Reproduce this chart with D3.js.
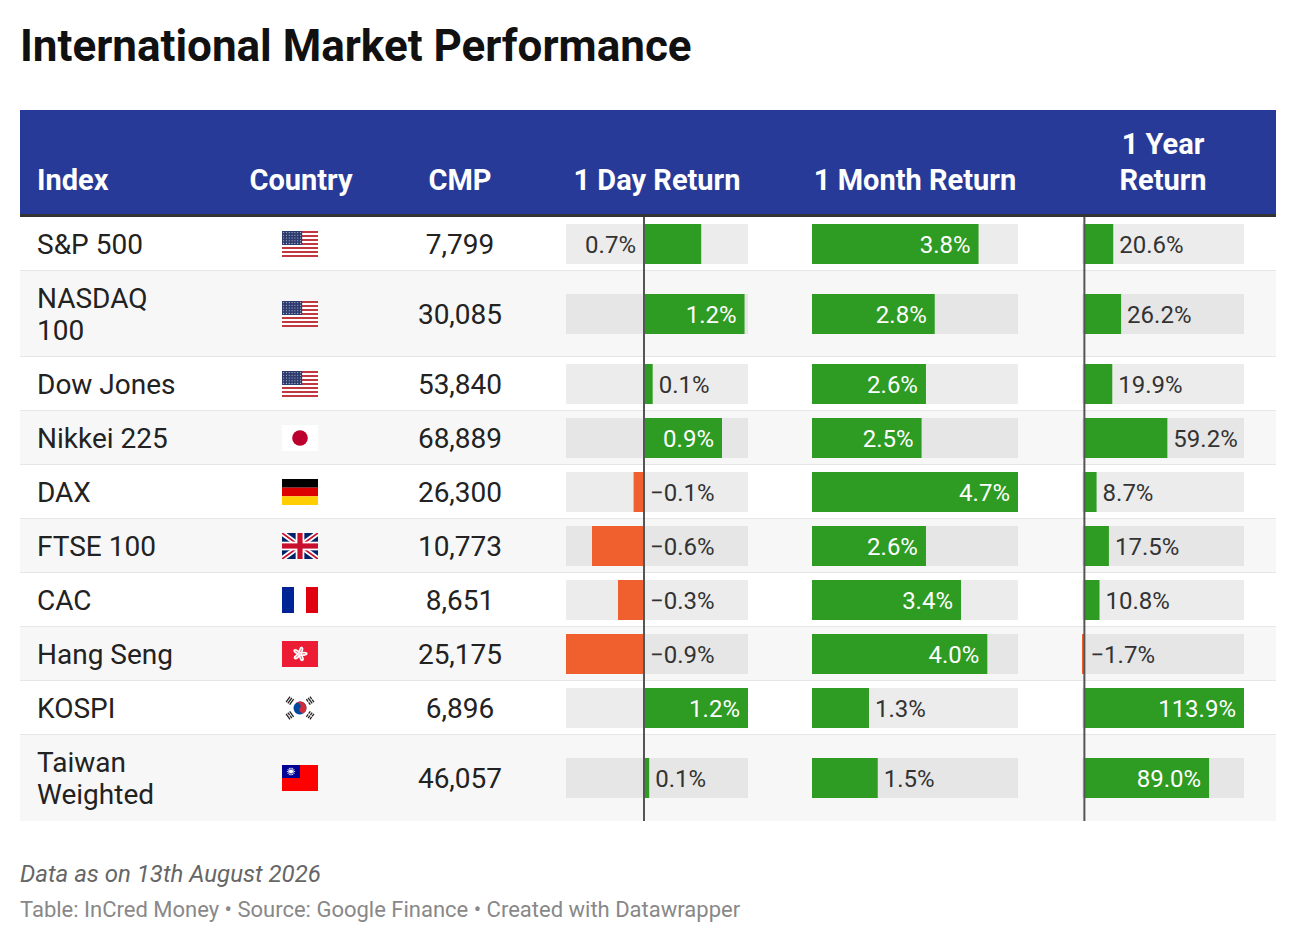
<!DOCTYPE html>
<html>
<head>
<meta charset="utf-8">
<script src="https://cdn.jsdelivr.net/npm/d3@7"></script>
<style>
  body { margin: 0; background: #fff; }
  svg { display: block; font-family: Roboto, "Noto Sans", sans-serif; }
</style>
</head>
<body>
<svg id="chart"></svg>
<script>
// Table data
const indexNames = ["S&P 500", "NASDAQ 100", "Dow Jones", "Nikkei 225", "DAX", "FTSE 100", "CAC", "Hang Seng", "KOSPI", "Taiwan Weighted"];
const countries = ["United States", "United States", "United States", "Japan", "Germany", "United Kingdom", "France", "Hong Kong", "South Korea", "Taiwan"];
const flagCodes = ["us", "us", "us", "jp", "de", "gb", "fr", "hk", "kr", "tw"];
const cmp = [7799, 30085, 53840, 68889, 26300, 10773, 8651, 25175, 6896, 46057];
const dayReturn = [0.66, 1.16, 0.1, 0.9, -0.12, -0.6, -0.3, -0.9, 1.2, 0.06];
const monthReturn = [3.8, 2.8, 2.6, 2.5, 4.7, 2.6, 3.4, 4.0, 1.3, 1.5];
const yearReturn = [20.6, 26.2, 19.9, 59.2, 8.7, 17.5, 10.8, -1.7, 113.9, 89.0];
const headers = ["Index", "Country", "CMP", "1 Day Return", "1 Month Return", "1 Year Return"];

const title = "International Market Performance";
const note = "Data as on 13th August 2026";
const byline = "Table: InCred Money \u2022 Source: Google Finance \u2022 Created with Datawrapper";

// Layout
const width = 1296;
const height = 944;
const tableLeft = 20;
const tableRight = 1276;
const headerTop = 110;
const headerBottom = 214;
const rowsTop = 217;
const lineHeight = 32;
const rowPad = 11;
const bodySize = 28;
const headSize = 29;
const labelSize = 24;
const barHeight = 40;

const green = "#2e9b22";
const red = "#f05f2e";

const svg = d3.select("#chart")
    .attr("width", width)
    .attr("height", height);

svg.append("rect")
    .attr("width", width)
    .attr("height", height)
    .attr("fill", "#fff");

// text measuring helper
const measurer = svg.append("text").attr("visibility", "hidden");
function textWidth(str, size, weight) {
    measurer.attr("font-size", size).attr("font-weight", weight || 400).text(str);
    return measurer.node().getComputedTextLength();
}
function wrap(str, maxW, size, weight) {
    const words = str.split(" ");
    const lines = [];
    let line = words[0];
    for (let i = 1; i < words.length; i++) {
        const test = line + " " + words[i];
        if (textWidth(test, size, weight) > maxW) {
            lines.push(line);
            line = words[i];
        } else {
            line = test;
        }
    }
    lines.push(line);
    return lines;
}

// Columns
const valueCols = [
    { name: headers[3], values: dayReturn, range: [566, 748] },
    { name: headers[4], values: monthReturn, range: [812, 1018] },
    { name: headers[5], values: yearReturn, range: [1082, 1244] }
];
valueCols.forEach(c => {
    c.scale = d3.scaleLinear()
        .domain([Math.min(0, d3.min(c.values)), Math.max(0, d3.max(c.values))])
        .range(c.range);
});

// Title
svg.append("text")
    .attr("x", 20)
    .attr("y", 61)
    .attr("font-size", 44)
    .attr("font-weight", 700)
    .attr("fill", "#111")
    .text(title);

// Header
svg.append("rect")
    .attr("x", tableLeft)
    .attr("y", headerTop)
    .attr("width", tableRight - tableLeft)
    .attr("height", headerBottom - headerTop)
    .attr("fill", "#283a97");
svg.append("rect")
    .attr("x", tableLeft)
    .attr("y", headerBottom)
    .attr("width", tableRight - tableLeft)
    .attr("height", rowsTop - headerBottom)
    .attr("fill", "#333");

const headerCells = [
    { text: headers[0], x: 37, anchor: "start", maxW: 150 },
    { text: headers[1], x: 301, anchor: "middle", maxW: 140 },
    { text: headers[2], x: 460, anchor: "middle", maxW: 140 },
    ...valueCols.map(c => ({
        text: c.name,
        x: (c.range[0] + c.range[1]) / 2,
        anchor: "middle",
        maxW: c.range[1] - c.range[0] + 6
    }))
];
headerCells.forEach(h => {
    const lines = wrap(h.text, h.maxW, headSize, 700);
    const t = svg.append("text")
        .attr("x", h.x)
        .attr("text-anchor", h.anchor)
        .attr("font-size", headSize)
        .attr("font-weight", 700)
        .attr("fill", "#fff");
    lines.forEach((l, i) => {
        t.append("tspan")
            .attr("x", h.x)
            .attr("y", 190 - (lines.length - 1 - i) * 36)
            .text(l);
    });
});

// Rows
const rowLines = indexNames.map(n => wrap(n, 150, bodySize, 400));
const rowHeights = rowLines.map(l => l.length * lineHeight + rowPad * 2);
const rowTops = [rowsTop, ...d3.cumsum(rowHeights).map(v => rowsTop + v)];
const tableBottom = rowTops[rowTops.length - 1];

const fmtPct = v => (v < 0 ? "\u2212" : "") + Math.abs(v).toFixed(1) + "%";
const fmtNum = d3.format(",");

const rows = svg.append("g").selectAll("g")
    .data(indexNames)
    .enter()
    .append("g")
    .attr("transform", (d, i) => `translate(0, ${rowTops[i]})`);

rows.append("rect")
    .attr("x", tableLeft)
    .attr("width", tableRight - tableLeft)
    .attr("height", (d, i) => rowHeights[i])
    .attr("fill", (d, i) => i % 2 ? "#f7f7f7" : "#fff");

rows.filter((d, i) => i < indexNames.length - 1)
    .append("rect")
    .attr("x", tableLeft)
    .attr("y", (d, i) => rowHeights[i] - 1)
    .attr("width", tableRight - tableLeft)
    .attr("height", 2)
    .attr("fill", "#e6e6e6");

// Index names
rows.each(function (d, i) {
    const g = d3.select(this);
    const mid = rowHeights[i] / 2;
    const lines = rowLines[i];
    const t = g.append("text")
        .attr("font-size", bodySize)
        .attr("fill", "#222");
    lines.forEach((l, k) => {
        t.append("tspan")
            .attr("x", 37)
            .attr("y", mid + (k - (lines.length - 1) / 2) * lineHeight + 10)
            .text(l);
    });

    // CMP
    g.append("text")
        .attr("x", 460)
        .attr("y", mid + 10)
        .attr("text-anchor", "middle")
        .attr("font-size", bodySize)
        .attr("fill", "#222")
        .text(fmtNum(cmp[i]));

    // Flag
    const f = g.append("g")
        .attr("transform", `translate(${300 - 18}, ${mid - 13})`);
    f.append("title").text(countries[i]);
    drawFlag(f, flagCodes[i], 36, 26, i);
});

// Bars
valueCols.forEach(col => {
    const x = col.scale;
    const [x0, x1] = col.range;
    rows.each(function (d, i) {
        const g = d3.select(this);
        const v = col.values[i];
        const mid = rowHeights[i] / 2;
        g.append("rect")
            .attr("x", x0)
            .attr("y", mid - barHeight / 2)
            .attr("width", x1 - x0)
            .attr("height", barHeight)
            .attr("fill", i % 2 ? "#e6e6e6" : "#ececec");
        g.append("rect")
            .attr("x", x(Math.min(0, v)))
            .attr("y", mid - barHeight / 2)
            .attr("width", Math.abs(x(v) - x(0)))
            .attr("height", barHeight)
            .attr("fill", v < 0 ? red : green);

        const label = fmtPct(v);
        const w = textWidth(label, labelSize, 400);
        let lx, anchor, color = "#333";
        if (v < 0) {
            lx = x(0) + 6; anchor = "start";
        } else if (x(v) - x(0) >= w + 24) {
            lx = x(v) - 8; anchor = "end"; color = "#fff";
        } else if (x1 - x(v) >= w + 8) {
            lx = x(v) + 6; anchor = "start";
        } else {
            lx = x(0) - 8; anchor = "end";
        }
        g.append("text")
            .attr("x", lx)
            .attr("y", mid + 8.5)
            .attr("text-anchor", anchor)
            .attr("font-size", labelSize)
            .attr("fill", color)
            .text(label);
    });

    if (x.domain()[0] < 0) {
        svg.append("line")
            .attr("x1", x(0))
            .attr("x2", x(0))
            .attr("y1", rowsTop)
            .attr("y2", tableBottom)
            .attr("stroke", "#555")
            .attr("stroke-width", 2);
    }
});

// Footer
svg.append("text")
    .attr("x", 20)
    .attr("y", 882)
    .attr("font-size", 24)
    .attr("font-style", "italic")
    .attr("fill", "#666")
    .text(note);
svg.append("text")
    .attr("x", 20)
    .attr("y", 917)
    .attr("font-size", 22)
    .attr("fill", "#888")
    .text(byline);

// Flags
function drawFlag(g, code, w, h, idx) {
    const clipId = "flagclip" + idx;
    g.append("clipPath").attr("id", clipId)
        .append("rect").attr("width", w).attr("height", h);
    const f = g.append("g").attr("clip-path", `url(#${clipId})`);
    const rect = (x, y, rw, rh, fill) => f.append("rect")
        .attr("x", x).attr("y", y).attr("width", rw).attr("height", rh).attr("fill", fill);

    if (code === "us") {
        const sh = h / 13;
        rect(0, 0, w, h, "#fff");
        for (let k = 0; k < 13; k += 2) rect(0, k * sh, w, sh, "#c0393f");
        const cw = w * 0.56, ch = sh * 7;
        rect(0, 0, cw, ch, "#2d3b6e");
        for (let r = 0; r < 5; r++) {
            for (let c = 0; c < 7; c++) {
                f.append("circle")
                    .attr("cx", 1.6 + c * (cw - 3.2) / 6)
                    .attr("cy", 1.6 + r * (ch - 3.2) / 4)
                    .attr("r", 0.55)
                    .attr("fill", "#c8cde0");
            }
        }
    } else if (code === "jp") {
        rect(0, 0, w, h, "#fff");
        f.append("circle").attr("cx", w / 2).attr("cy", h / 2).attr("r", h * 0.3).attr("fill", "#bc002d");
    } else if (code === "de") {
        rect(0, 0, w, h / 3, "#000");
        rect(0, h / 3, w, h / 3, "#dd0000");
        rect(0, 2 * h / 3, w, h / 3, "#ffce00");
    } else if (code === "fr") {
        rect(0, 0, w / 3, h, "#002395");
        rect(w / 3, 0, w / 3, h, "#fff");
        rect(2 * w / 3, 0, w / 3, h, "#e1000f");
    } else if (code === "gb") {
        rect(0, 0, w, h, "#012169");
        const diag = [[0, 0, w, h], [0, h, w, 0]];
        diag.forEach(dd => f.append("line")
            .attr("x1", dd[0]).attr("y1", dd[1]).attr("x2", dd[2]).attr("y2", dd[3])
            .attr("stroke", "#fff").attr("stroke-width", h * 0.2));
        diag.forEach(dd => f.append("line")
            .attr("x1", dd[0]).attr("y1", dd[1]).attr("x2", dd[2]).attr("y2", dd[3])
            .attr("stroke", "#c8102e").attr("stroke-width", h * 0.07));
        rect(0, h / 2 - h / 6, w, h / 3, "#fff");
        rect(w / 2 - h / 6, 0, h / 3, h, "#fff");
        rect(0, h / 2 - h / 10, w, h / 5, "#c8102e");
        rect(w / 2 - h / 10, 0, h / 5, h, "#c8102e");
    } else if (code === "hk") {
        rect(0, 0, w, h, "#ec1c34");
        const petals = f.append("g").attr("transform", `translate(${w / 2}, ${h / 2})`);
        for (let k = 0; k < 5; k++) {
            petals.append("ellipse")
                .attr("cx", 0).attr("cy", -4)
                .attr("rx", 2.1).attr("ry", 3.6)
                .attr("fill", "#fff")
                .attr("transform", `rotate(${k * 72 + 15})`);
        }
        for (let k = 0; k < 5; k++) {
            petals.append("line")
                .attr("x1", 0).attr("y1", -2).attr("x2", 0).attr("y2", -5.5)
                .attr("stroke", "#ec1c34").attr("stroke-width", 0.6)
                .attr("transform", `rotate(${k * 72 + 15})`);
        }
    } else if (code === "kr") {
        rect(0, 0, w, h, "#fff");
        const r = h / 4;
        const tg = f.append("g").attr("transform", `translate(${w / 2}, ${h / 2}) rotate(33.7)`);
        tg.append("circle").attr("r", r).attr("fill", "#0047a0");
        tg.append("path")
            .attr("d", `M${-r},0 A${r},${r} 0 0 1 ${r},0 A${r / 2},${r / 2} 0 0 1 0,0 A${r / 2},${r / 2} 0 0 0 ${-r},0 Z`)
            .attr("fill", "#cd2e3a");
        // trigrams
        const corners = [[-1, -1, [0, 0, 0]], [1, -1, [1, 0, 1]], [-1, 1, [0, 1, 0]], [1, 1, [1, 1, 1]]];
        corners.forEach(cn => {
            const ang = Math.atan2(cn[1] * h, cn[0] * w) * 180 / Math.PI;
            const tr = f.append("g")
                .attr("transform", `translate(${w / 2}, ${h / 2}) rotate(${ang}) translate(${h * 0.48}, 0)`);
            cn[2].forEach((broken, k) => {
                const bx = (k - 1) * 2.2 - 0.6;
                if (broken) {
                    tr.append("rect").attr("x", bx).attr("y", -3.4).attr("width", 1.3).attr("height", 3).attr("fill", "#222");
                    tr.append("rect").attr("x", bx).attr("y", 0.4).attr("width", 1.3).attr("height", 3).attr("fill", "#222");
                } else {
                    tr.append("rect").attr("x", bx).attr("y", -3.4).attr("width", 1.3).attr("height", 6.8).attr("fill", "#222");
                }
            });
        });
    } else if (code === "tw") {
        rect(0, 0, w, h, "#fe0000");
        rect(0, 0, w / 2, h / 2, "#000095");
        const cx = w / 4, cy = h / 4;
        const pts = d3.range(24).map(k => {
            const a = k * Math.PI / 12 - Math.PI / 2;
            const rr = k % 2 ? 2.6 : 4.6;
            return [cx + rr * Math.cos(a), cy + rr * Math.sin(a)];
        });
        f.append("path").attr("d", d3.line()(pts) + "Z").attr("fill", "#fff");
        f.append("circle").attr("cx", cx).attr("cy", cy).attr("r", 2.5).attr("fill", "#000095");
        f.append("circle").attr("cx", cx).attr("cy", cy).attr("r", 2.1).attr("fill", "#fff");
    }
}
</script>
</body>
</html>
